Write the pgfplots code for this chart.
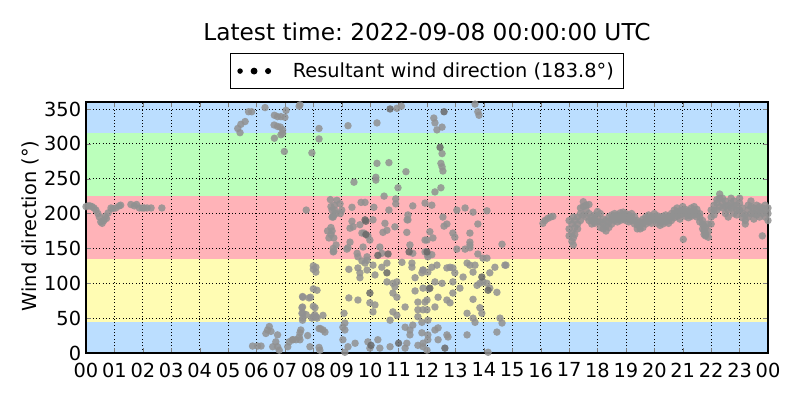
\documentclass[border=0pt]{standalone}
\usepackage{fontspec}
\setmainfont{DejaVu Sans}
\usepackage{pgfplots}
\usepackage{pgfplotstable}
\pgfplotsset{compat=1.18}
\frenchspacing
\definecolor{bandblue}{RGB}{187,222,255}
\definecolor{bandgreen}{RGB}{187,255,187}
\definecolor{bandred}{RGB}{255,179,184}
\definecolor{bandyellow}{RGB}{255,252,179}
\definecolor{ptgray}{RGB}{145,145,145}
\definecolor{ptdark}{RGB}{105,105,105}

\pgfplotstableread{
h d
0.00 210
0.07 211
0.14 211
0.21 210
0.28 208
0.35 205
0.42 200
0.47 195
0.52 188
0.57 186
0.63 190
0.68 196
0.72 193
0.78 201
0.88 208
0.95 207
1.05 208
1.17 211
1.22 212
1.58 213
1.70 211
1.78 213
1.88 208
1.98 208
2.05 208
2.15 208
2.29 208
2.67 208
5.34 322
5.42 316
5.45 328
5.60 332
5.72 346
5.83 346
6.30 352
6.63 341
6.74 339
6.86 339
7.00 338
6.62 327
6.74 325
6.84 324
6.92 320
6.92 315
6.86 313
6.63 308
6.98 289
7.04 348
7.50 354
5.86 10
6.04 10
6.16 10
6.33 28
6.39 33
6.45 38
6.51 31
6.74 26
6.68 16
6.57 9
6.74 9
6.80 4
7.10 9
7.15 16
7.27 19
7.39 19
7.50 23
7.56 33
7.62 47
7.60 57
7.62 66
7.62 81
7.75 55
7.90 80
7.95 50
7.80 25
8.00 125
8.00 120
8.00 92
8.00 67
8.05 55
8.10 52
8.20 35
8.25 35
8.20 8
7.95 287
8.20 322
8.20 307
7.75 205
8.60 220
8.62 210
8.70 195
8.80 200
8.75 205
8.50 175
8.55 165
8.62 170
8.70 145
8.80 155
9.00 205
8.95 200
7.53 356
9.22 326
10.24 330
10.94 351
11.10 354
10.24 272
10.66 273
11.26 260
9.43 245
10.20 252
10.20 248
10.98 237
8.66 205
8.75 212
8.83 219
8.94 214
9.36 209
9.68 216
9.82 216
10.13 209
10.49 225
10.66 205
10.90 221
10.90 214
11.50 211
11.30 191
11.33 198
11.93 215
8.66 195
8.70 197
8.62 180
8.66 175
8.72 165
8.70 150
8.72 146
9.36 189
9.29 179
9.40 181
9.29 159
9.22 151
9.71 172
9.78 172
9.92 168
9.64 184
9.75 152
9.99 162
10.10 191
10.52 186
10.45 173
10.59 176
10.87 181
11.33 191
11.29 173
11.40 155
11.50 143
10.34 152
10.41 143
12.00 162
11.93 145
12.03 138
9.18 149
9.54 143
9.57 138
9.89 138
9.89 133
9.71 132
9.82 129
8.09 123
8.09 116
9.25 120
9.57 122
9.64 115
9.64 108
9.89 119
10.10 126
10.17 112
10.41 123
10.59 129
10.59 102
10.80 100
10.94 102
11.12 130
11.47 129
11.47 123
11.58 108
11.82 115
11.86 119
8.13 90
9.25 79
9.57 76
9.99 72
10.17 69
10.80 86
10.87 95
10.94 80
11.23 66
11.58 89
11.68 73
11.68 62
11.93 73
12.07 92
12.00 62
7.63 80
7.85 79
7.60 65
7.63 57
7.63 50
8.06 65
7.99 52
8.13 50
8.34 54
9.08 57
9.11 43
9.11 33
10.10 59
10.70 47
10.80 59
10.94 54
11.23 37
11.40 33
11.50 40
11.40 26
11.68 52
7.28 19
7.53 19
7.88 9
8.23 4
8.34 33
8.41 30
9.04 19
9.22 9
9.11 1
9.47 14
9.92 16
9.99 7
10.27 19
10.34 7
10.70 9
11.23 7
11.29 14
11.68 11
11.86 14
12.00 4
12.03 19
9.04 37
7.53 29
12.24 337
12.28 330
12.35 320
12.53 324
12.53 286
12.49 272
12.53 267
12.56 261
12.28 231
12.49 237
13.69 357
13.79 346
13.83 341
12.17 212
13.05 205
13.34 208
13.62 202
14.11 204
12.56 195
12.70 185
12.60 182
13.79 185
13.51 172
12.91 172
12.98 166
13.51 159
13.51 155
14.64 156
12.10 174
12.21 165
11.93 162
12.03 141
12.17 141
13.05 149
13.34 149
13.51 151
13.79 142
13.97 136
14.11 136
11.86 119
12.03 116
12.17 123
12.35 126
12.70 122
12.81 123
12.91 122
12.98 115
13.41 129
13.51 126
13.69 126
13.62 116
13.27 109
14.21 115
14.39 123
14.74 126
13.97 102
14.11 100
14.21 93
12.91 102
12.53 100
12.28 102
11.86 93
13.16 93
13.76 97
13.86 100
12.91 86
12.70 76
12.81 72
12.39 80
12.00 76
12.28 66
13.62 77
13.41 57
13.86 65
13.93 57
14.46 87
11.86 62
13.62 50
13.69 44
14.57 50
14.64 43
14.46 30
12.03 47
11.82 44
12.28 33
12.39 36
12.70 26
12.74 23
13.41 26
12.39 19
12.03 26
11.82 29
11.86 9
14.15 1
14.78 126
16.08 186
16.15 190
16.25 193
16.35 195
16.43 196
21.02 163
}\scattered

\pgfplotstableread{
h d
9.85 189
9.85 170
10.63 142
11.37 145
10.59 115
9.99 86
10.70 350
10.03 11
11.00 14
12.60 346
12.46 295
12.10 93
12.63 7
13.93 109
14.15 90
12.00 145
9.82 191
10.27 140
}\darkpts

\pgfplotstableread{
h a b c
17.00 190 178 168
17.10 160 172 185
17.15 155 165 195
17.20 170 180 190
17.30 185 195 178
17.40 200 190 208
17.50 210 217 198
17.60 205 212 195
17.70 213 200 190
17.80 195 185 190
17.90 192 186 198
18.00 203 196 188
18.10 200 188 180
18.20 185 178 192
18.30 182 175 190
18.40 188 195 180
18.50 192 185 198
18.60 196 190 200
18.70 198 192 188
18.80 201 195 190
18.90 198 192 202
19.00 195 200 190
19.10 192 188 198
19.20 195 190 200
19.30 190 185 196
19.40 184 178 190
19.50 182 178 188
19.60 186 180 192
19.70 190 185 195
19.80 194 188 198
19.90 192 186 196
20.00 195 190 200
20.10 192 186 197
20.20 188 183 195
20.30 190 196 185
20.40 194 188 198
20.50 190 196 186
20.60 196 190 200
20.70 200 194 205
20.80 202 196 208
20.90 198 204 192
21.00 205 200 210
21.10 200 196 206
21.20 198 204 194
21.30 202 196 208
21.40 205 198 210
21.50 200 206 195
21.60 195 188 200
21.70 185 178 190
21.75 175 170 182
21.80 168 172 180
21.90 166 175 185
22.00 195 185 205
22.10 205 198 212
22.20 215 205 220
22.30 222 228 210
22.40 215 208 222
22.50 210 200 218
22.60 205 212 195
22.70 215 208 222
22.80 210 218 200
22.90 205 198 212
23.00 215 205 222
23.10 200 194 208
23.20 190 198 185
23.30 205 212 195
23.40 210 200 218
23.50 200 192 208
23.60 205 212 198
23.70 195 202 210
23.80 200 168 208
23.90 205 195 212
24.00 200 190 208
}\band

\pgfplotsset{
  ptstyle/.style={only marks, mark=*, mark size=2.7pt, color=#1,
    mark options={draw=#1, fill=#1, fill opacity=0.85, draw opacity=0}},
}

\begin{document}
\begin{tikzpicture}
\begin{axis}[
  scale only axis,
  width=6.82in, height=2.51in,
  xmin=0, xmax=24, ymin=0, ymax=360,
  xtick={0,1,...,24},
  xticklabels={00,01,02,03,04,05,06,07,08,09,10,11,12,13,14,15,16,17,18,19,20,21,22,23,00},
  ytick={0,50,...,350},
  /pgf/number format/assume math mode=true,
  tick label style={font=\fontsize{14}{16}\selectfont},
  xticklabel style={yshift=-3.5pt},
  tick align=inside,
  major tick length=0.05in,
  xtick pos=both, ytick pos=both,
  grid=major,
  major grid style={black, line width=0.5pt, dash pattern=on 0.7pt off 1.7pt},
  axis line style={line width=0.8pt},
  axis on top,
  legend style={at={(0.5,1.052)}, anchor=south, draw=black, line width=0.7pt,
    font=\fontsize{14}{16}\selectfont, inner xsep=5pt, inner ysep=4.5pt,
    /tikz/every odd column/.append style={column sep=0.19in}},
  legend cell align=left,
]
\addplot[fill=bandblue, draw=none, forget plot] coordinates {(0,0) (24,0) (24,45) (0,45)} -- cycle;
\addplot[fill=bandyellow, draw=none, forget plot] coordinates {(0,45) (24,45) (24,135) (0,135)} -- cycle;
\addplot[fill=bandred, draw=none, forget plot] coordinates {(0,135) (24,135) (24,225) (0,225)} -- cycle;
\addplot[fill=bandgreen, draw=none, forget plot] coordinates {(0,225) (24,225) (24,315) (0,315)} -- cycle;
\addplot[fill=bandblue, draw=none, forget plot] coordinates {(0,315) (24,315) (24,360) (0,360)} -- cycle;

\addplot[ptstyle=ptgray,
  legend image code/.code={
    \fill[black, opacity=1] (0in,0) circle (1.6pt);
    \fill[black, opacity=1] (0.14in,0) circle (2.1pt);
    \fill[black, opacity=1] (0.28in,0) circle (1.8pt);
  }] table[x=h, y=d] {\scattered};
\addlegendentry{Resultant wind direction (183.8°)}
\addplot[ptstyle=ptgray, forget plot] table[x=h, y=a] {\band};
\addplot[ptstyle=ptgray, forget plot] table[x=h, y=b] {\band};
\addplot[ptstyle=ptgray, forget plot] table[x=h, y=c] {\band};
\addplot[ptstyle=ptdark, forget plot] table[x=h, y=d] {\darkpts};
\end{axis}
\node[anchor=base, font=\fontsize{16.8}{20}\selectfont] at (3.41in,3.12in) {Latest time: 2022-09-08 00:00:00 UTC};
\node[rotate=90, font=\fontsize{14}{16}\selectfont] at (-0.56in,1.27in) {Wind direction (°)};
\pgfresetboundingbox
\path (-0.86in,-0.47in) rectangle (7.14in,3.53in);
\end{tikzpicture}
\end{document}
